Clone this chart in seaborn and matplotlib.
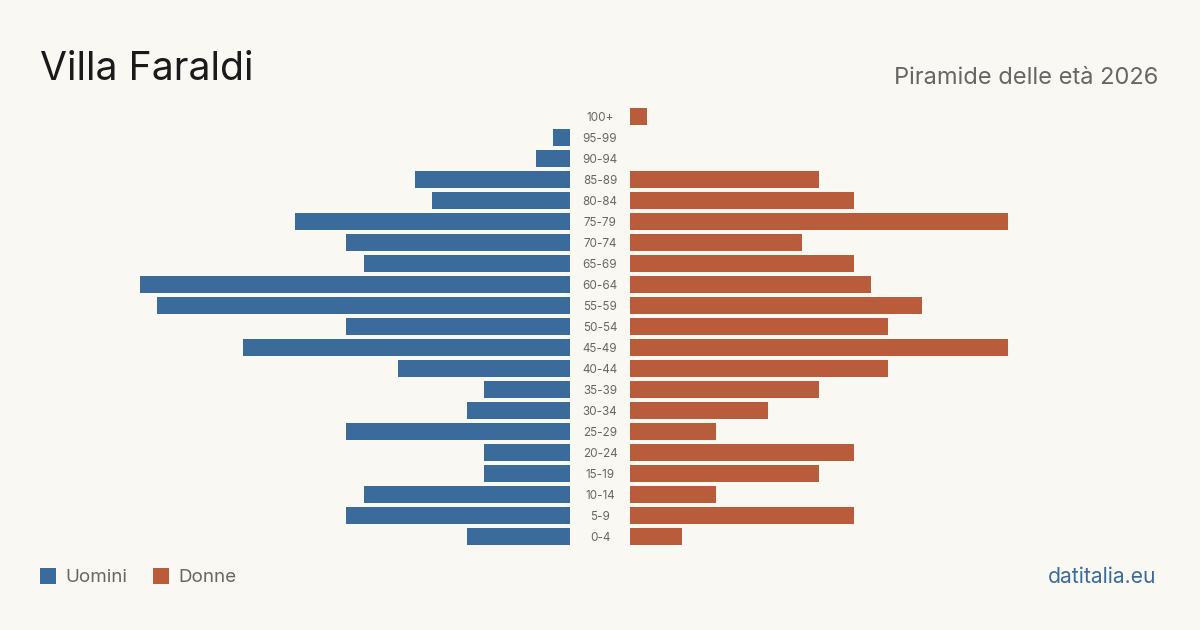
import matplotlib
matplotlib.use("Agg")
import matplotlib.pyplot as plt
import seaborn as sns
import pandas as pd
from matplotlib.patches import Rectangle

ages = ["100+", "95-99", "90-94", "85-89", "80-84", "75-79", "70-74", "65-69",
        "60-64", "55-59", "50-54", "45-49", "40-44", "35-39", "30-34", "25-29",
        "20-24", "15-19", "10-14", "5-9", "0-4"]
men = [0, 1, 2, 9, 8, 16, 13, 12, 25, 24, 13, 19, 10, 5, 6, 13, 5, 5, 12, 13, 6]
women = [1, 0, 0, 11, 13, 22, 10, 13, 14, 17, 15, 22, 15, 11, 8, 5, 13, 11, 5, 13, 3]

title = "Villa Faraldi"
subtitle = "Piramide delle età 2026"
legend_labels = ["Uomini", "Donne"]
source = "datitalia.eu"

BG = "#f9f8f3"
BLUE = "#3b6b9b"
ORANGE = "#b95c3b"
GRAY = "#666666"

sns.set_theme(style="white")
plt.rcParams["font.family"] = ["Inter", "DejaVu Sans"]

df = pd.DataFrame({"age": ages, "men": men, "women": women})

W, H = 1200, 630
fig = plt.figure(figsize=(12, 6.3), dpi=100, facecolor=BG)

top_px, bot_px = 106, 547
ax_b = 1 - bot_px / H
ax_h = (bot_px - top_px) / H
axL = fig.add_axes([140 / W, ax_b, 430 / W, ax_h])
axR = fig.add_axes([630 / W, ax_b, 430 / W, ax_h])

sns.barplot(data=df, y="age", x="men", ax=axL, color=BLUE, orient="h",
            width=0.81, saturation=1, order=ages, linewidth=0)
sns.barplot(data=df, y="age", x="women", ax=axR, color=ORANGE, orient="h",
            width=0.81, saturation=1, order=ages, linewidth=0)

maxv = 25
axL.set_xlim(maxv, 0)
axR.set_xlim(0, maxv)
for ax in (axL, axR):
    ax.set_ylim(len(ages) - 0.5, -0.5)
    ax.set_facecolor("none")
    ax.set_xlabel("")
    ax.set_ylabel("")
    ax.set_xticks([])
    ax.set_yticks([])
    for s in ax.spines.values():
        s.set_visible(False)

for i, a in enumerate(ages):
    axR.annotate(a, xy=(0, i), xycoords=("axes fraction", "data"),
                 xytext=(-30 * 72 / 100, -4.3 * 72 / 100), textcoords="offset points",
                 ha="center", va="baseline", fontsize=8.4, color=GRAY)

fig.text(40 / W, 1 - 79.5 / H, title, fontsize=28.2, color="#1a1a1a",
         ha="left", va="baseline")
fig.text(1158 / W, 1 - 83.5 / H, subtitle, fontsize=17, color=GRAY,
         ha="right", va="baseline")

# legend
for x0, col, lab, tx in [(40, BLUE, legend_labels[0], 65), (153, ORANGE, legend_labels[1], 178)]:
    fig.patches.append(Rectangle((x0 / W, 1 - 584 / H), 16 / W, 16 / H,
                                 transform=fig.transFigure, facecolor=col,
                                 edgecolor="none"))
    fig.text(tx / W, 1 - 582.5 / H, lab, fontsize=13.5, color=GRAY,
             ha="left", va="baseline")

fig.text(1156 / W, 1 - 583 / H, source, fontsize=15.2, color=BLUE,
         ha="right", va="baseline")

fig.savefig("out.png", dpi=100, facecolor=BG)
